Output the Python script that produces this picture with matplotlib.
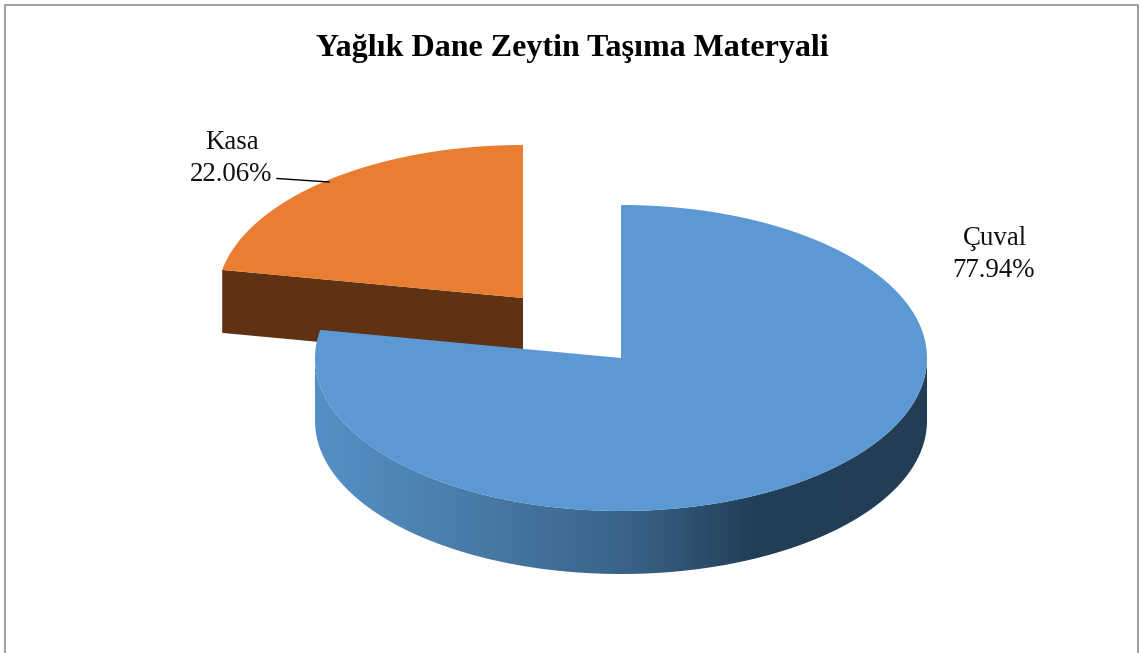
import numpy as np
import matplotlib
matplotlib.use("Agg")
import matplotlib.pyplot as plt
from matplotlib.patches import Polygon
from matplotlib.colors import LinearSegmentedColormap

# ---- data ----
categories = ["Çuval", "Kasa"]
shares = [77.94, 22.06]
title = "Yağlık Dane Zeytin Taşıma Materyali"
top_colors = ["#5B98D4", "#E97D31"]
cut_color = "#5F3213"

plt.rcParams["font.family"] = ["Liberation Serif", "DejaVu Serif"]
fig = plt.figure(figsize=(11.4, 6.53), dpi=100)
ax = fig.add_axes([0, 0, 1, 1])
ax.set_xlim(0, 1140)
ax.set_ylim(653, 0)
ax.axis("off")

rx, ry, depth = 306, 153, 63
main_c = (621, 358)
kasa_c = (523, 298)


def rim(c, a0, a1, n=300):
    t = np.radians(np.linspace(a0, a1, n))
    return np.column_stack([c[0] + rx * np.sin(t), c[1] - ry * np.cos(t)])


split = 360 * shares[0] / sum(shares)

# exploded Kasa slice: cut face, then top
p = rim(kasa_c, split, split)[0]
ax.add_patch(Polygon([p, kasa_c, (kasa_c[0], kasa_c[1] + depth), (p[0], p[1] + depth)],
                     closed=True, fc=cut_color, ec="none", zorder=1))
ax.add_patch(Polygon(np.vstack([[kasa_c], rim(kasa_c, split, 360)]), closed=True,
                     fc=top_colors[1], ec="none", zorder=2))

# Çuval side wall with horizontal shading
front = rim(main_c, 90, 270)
side = np.vstack([front, (front + [0, depth])[::-1]])
clip = Polygon(side, closed=True, fc="none", ec="none", transform=ax.transData)
ax.add_patch(clip)
cmap = LinearSegmentedColormap.from_list(
    "side", [(0, "#5490C8"), (0.2, "#4C80AE"), (0.5, "#3A648A"), (0.72, "#233F58"), (1, "#223D54")])
im = ax.imshow(np.linspace(0, 1, 512)[None, :], cmap=cmap, aspect="auto",
               extent=(main_c[0] - rx, main_c[0] + rx, 600, 300), zorder=3)
im.set_clip_path(clip)
ax.set_xlim(0, 1140)
ax.set_ylim(653, 0)

# Çuval top
ax.add_patch(Polygon(np.vstack([[main_c], rim(main_c, 0, split)]), closed=True,
                     fc=top_colors[0], ec="none", zorder=4))

# frame, open at the bottom
ax.plot([5, 5, 1137.5, 1137.5], [653, 4.5, 4.5, 653], color="#8E8E8E", lw=1.2, zorder=5)

ax.text(572, 56, title, ha="center", va="baseline", fontsize=23, fontweight="bold", color="black")
ax.text(995, 245, categories[0], ha="center", va="baseline", fontsize=19.4, color="#111111")
ax.text(993.5, 277, f"{shares[0]:.2f}%", ha="center", va="baseline", fontsize=19.4, color="#111111")
ax.text(232.5, 149, categories[1], ha="center", va="baseline", fontsize=19.4, color="#111111")
ax.text(231, 181, f"{shares[1]:.2f}%", ha="center", va="baseline", fontsize=19.4, color="#111111")
ax.plot([277, 329], [178.5, 182], color="black", lw=1, zorder=5)

fig.savefig("out.png", dpi=100)
